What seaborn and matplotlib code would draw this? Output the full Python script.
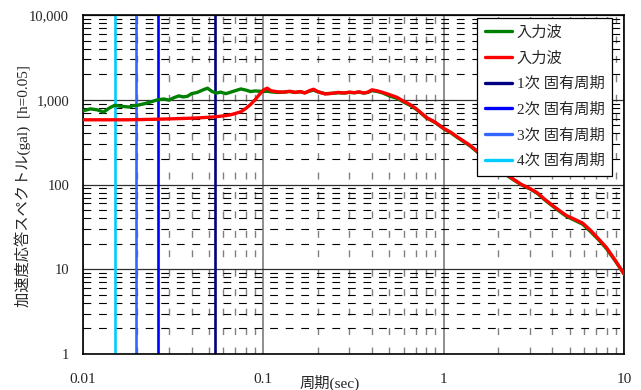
import matplotlib
matplotlib.use("Agg")
import matplotlib.pyplot as plt
import seaborn as sns
import pandas as pd
from matplotlib.lines import Line2D
from matplotlib.ticker import FixedLocator, FixedFormatter, LogLocator, NullFormatter

# Periods (sec) at which the response spectra are sampled
period = [0.01, 0.011, 0.012, 0.013, 0.014, 0.015, 0.016, 0.017, 0.018, 0.019,
          0.02, 0.022, 0.024, 0.026, 0.028, 0.03, 0.032, 0.034, 0.036, 0.038,
          0.04, 0.043, 0.046, 0.049, 0.052, 0.055, 0.058, 0.062, 0.066, 0.07,
          0.075, 0.08, 0.085, 0.09, 0.095, 0.1, 0.105, 0.11, 0.12, 0.13,
          0.14, 0.15, 0.16, 0.17, 0.18, 0.19, 0.2, 0.22, 0.24, 0.26,
          0.28, 0.3, 0.32, 0.34, 0.36, 0.38, 0.4, 0.43, 0.46, 0.5,
          0.55, 0.6, 0.65, 0.7, 0.75, 0.8, 0.9, 1.0, 1.1, 1.2,
          1.4, 1.6, 1.8, 2.0, 2.2, 2.4, 2.7, 3.0, 3.3, 3.6,
          4.0, 4.4, 4.8, 5.3, 5.9, 6.5, 7.2, 8.0, 9.0, 10.0]

# Acceleration response spectrum (gal), h=0.05 — green series
accel_green = [740, 780, 760, 715, 800, 860, 840, 830, 820, 850,
               860, 900, 950, 1000, 1020, 990, 1060, 1110, 1080, 1100,
               1180, 1220, 1300, 1370, 1250, 1200, 1230, 1180, 1230, 1280,
               1340, 1300, 1250, 1270, 1260, 1250, 1260, 1240, 1220, 1230,
               1250, 1220, 1240, 1210, 1260, 1300, 1240, 1180, 1190, 1210,
               1200, 1220, 1210, 1230, 1200, 1220, 1280, 1250, 1200, 1110,
               1040, 940, 860, 780, 690, 615, 535, 455, 405, 355,
               285, 225, 185, 155, 132, 116, 99, 89, 79, 67,
               56, 48, 42, 38, 34, 28, 22.5, 17.5, 12.3, 8.8]

# Acceleration response spectrum (gal), h=0.05 — red series
accel_red = [580, 580, 580, 580, 580, 580, 580, 580, 580, 582,
             583, 585, 587, 590, 592, 595, 597, 600, 602, 604,
             606, 610, 615, 620, 625, 632, 640, 650, 665, 690,
             720, 790, 880, 1000, 1150, 1300, 1370, 1280, 1240, 1230,
             1260, 1220, 1250, 1200, 1280, 1330, 1250, 1170, 1190, 1220,
             1200, 1230, 1210, 1240, 1200, 1230, 1310, 1270, 1220, 1150,
             1070, 960, 880, 790, 700, 620, 540, 460, 410, 360,
             290, 230, 190, 160, 135, 118, 100, 90, 80, 68,
             57, 49, 43, 39, 35, 29, 23, 18, 12.5, 8.8]

# Natural periods (sec) of modes 1-4
mode_period = [0.054, 0.026, 0.0197, 0.0151]
mode_label = ["1次 固有周期", "2次 固有周期", "3次 固有周期", "4次 固有周期"]
mode_color = ["#000080", "#0000FF", "#3366FF", "#00CCFF"]

series_label = ["入力波", "入力波"]
series_color = ["#008000", "#FF0000"]

xticks = [0.01, 0.1, 1, 10]
xticklabels = ["0.01", "0.1", "1", "10"]
yticks = [1, 10, 100, 1000, 10000]
yticklabels = ["1", "10", "100", "1,000", "10,000"]

sns.set_style("white")
fam = ["Liberation Serif", "Noto Sans CJK JP"]
plt.rcParams["font.family"] = fam

fig = plt.figure(figsize=(6.41, 3.90), dpi=100)
ax = fig.add_axes([83 / 641, 1 - 354 / 390, (624 - 83) / 641, (354 - 15) / 390])

ax.set_xscale("log")
ax.set_yscale("log")
ax.set_xlim(0.01, 10)
ax.set_ylim(1, 10000)

# grid: solid at decades, dashed at intermediate values
ax.grid(which="major", axis="y", color="#303030", lw=0.9, ls="-")
ax.grid(which="major", axis="x", color="#707070", lw=1.1, ls="-")
ax.grid(which="minor", axis="y", color="#000000", lw=0.8, ls=(0, (7, 7)))
ax.grid(which="minor", axis="x", color="#808080", lw=1.0, ls=(0, (5, 9)))
ax.set_axisbelow(True)

ax.xaxis.set_major_locator(FixedLocator(xticks))
ax.xaxis.set_major_formatter(FixedFormatter(xticklabels))
ax.yaxis.set_major_locator(FixedLocator(yticks))
ax.yaxis.set_major_formatter(FixedFormatter(yticklabels))
ax.xaxis.set_minor_locator(LogLocator(base=10, subs=range(2, 10)))
ax.yaxis.set_minor_locator(LogLocator(base=10, subs=range(2, 10)))
ax.xaxis.set_minor_formatter(NullFormatter())
ax.yaxis.set_minor_formatter(NullFormatter())
ax.tick_params(which="both", length=0)
ax.tick_params(axis="x", pad=14, labelsize=11)
ax.tick_params(axis="y", pad=10, labelsize=10.5)

# natural period markers
for p, c in zip(mode_period, mode_color):
    ax.axvline(p, color=c, lw=1.9, zorder=2)

# spectra
df = pd.DataFrame({"period": period * 2,
                   "accel": accel_green + accel_red,
                   "series": ["g"] * len(period) + ["r"] * len(period)})
sns.lineplot(data=df[df.series == "g"], x="period", y="accel", color=series_color[0],
             lw=2.4, ax=ax, zorder=3, legend=False)
sns.lineplot(data=df[df.series == "r"], x="period", y="accel", color=series_color[1],
             lw=2.4, ax=ax, zorder=4, legend=False)

ax.set_xlabel("")
ax.set_ylabel("")

for s in ax.spines.values():
    s.set_color("black")
    s.set_linewidth(1.2)
    s.set_visible(True)

handles = [Line2D([], [], color=c, lw=2.4) for c in series_color] + \
          [Line2D([], [], color=c, lw=2.4) for c in mode_color]
labels = series_label + mode_label
leg = ax.legend(handles, labels, loc="upper right", bbox_to_anchor=(612 / 641, 1 - 18 / 390),
                bbox_transform=fig.transFigure, fontsize=11, frameon=True, fancybox=False,
                framealpha=1, edgecolor="black", handlelength=1.8, handletextpad=0.3,
                labelspacing=0.75, borderpad=0.5, borderaxespad=0)
leg.get_frame().set_linewidth(0.9)
leg.set_zorder(10)

fig.text(330 / 641, 1 - 383 / 390, "周期(sec)", ha="center", va="center", fontsize=11, family=fam)
fig.text(23 / 641, 1 - 186 / 390, "加速度応答スペクトル(gal)  [h=0.05]", rotation=90,
         ha="center", va="center", fontsize=11, family=fam)

fig.savefig("out.png", dpi=100)
